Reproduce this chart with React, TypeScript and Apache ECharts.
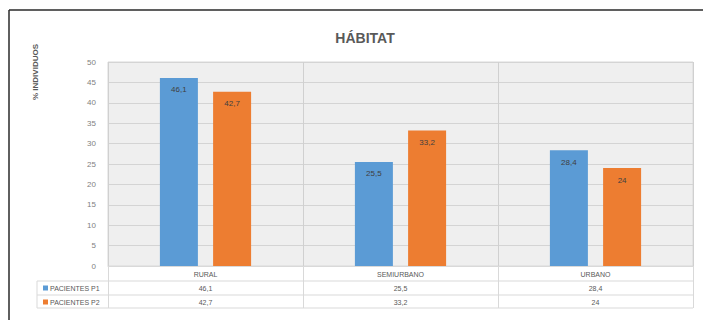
import React, { useEffect, useRef } from "react";
import * as echarts from "echarts";

const categories = ["RURAL", "SEMIURBANO", "URBANO"];
const seriesNames = ["PACIENTES P1", "PACIENTES P2"];
const p1Values = [46.1, 25.5, 28.4];
const p2Values = [42.7, 33.2, 24];
const yTicks = { min: 0, max: 50, interval: 5 };

const fmt = (v: number) => String(v).replace(".", ",");

export default function App() {
  const ref = useRef<HTMLDivElement>(null);
  useEffect(() => {
    if (!ref.current) return;
    const chart = echarts.init(ref.current, null, { renderer: "svg" });
    const tableLine = { stroke: "#d9d9d9", lineWidth: 1 };
    chart.setOption({
      animation: false,
      backgroundColor: "#ffffff",
      textStyle: { fontFamily: "Liberation Sans, Arial, sans-serif" },
      title: {
        text: "HÁBITAT",
        left: 360,
        top: 26,
        textAlign: "center",
        textStyle: { fontSize: 14, fontWeight: "bold", color: "#595959" },
      },
      grid: {
        left: 108,
        right: 10,
        top: 62,
        bottom: 54,
        show: true,
        backgroundColor: "#efefef",
        borderColor: "#d9d9d9",
        borderWidth: 1,
      },
      legend: {
        orient: "vertical",
        left: 38,
        top: 279,
        itemWidth: 5,
        itemHeight: 5,
        itemGap: 6,
        icon: "rect",
        data: seriesNames,
        textStyle: { fontSize: 7, color: "#595959", lineHeight: 8, padding: [0, 0, 0, -3] },
      },
      xAxis: {
        type: "category",
        data: categories,
        axisLine: { show: true, lineStyle: { color: "#d9d9d9" } },
        axisTick: { show: true, length: 42, lineStyle: { color: "#d9d9d9" } },
        splitLine: { show: true, lineStyle: { color: "#d0d0d0" } },
        axisLabel: {
          margin: 1,
          interval: 0,
          formatter: (v: string, i: number) =>
            `{c|${v}}\n{v|${fmt(p1Values[i])}}\n{v|${fmt(p2Values[i])}}`,
          rich: {
            c: { fontSize: 7, color: "#595959", lineHeight: 14 },
            v: { fontSize: 7, color: "#595959", lineHeight: 14 },
          },
        },
      },
      yAxis: {
        type: "value",
        min: yTicks.min,
        max: yTicks.max,
        interval: yTicks.interval,
        axisLine: { show: false },
        axisTick: { show: false },
        splitLine: { lineStyle: { color: "#d4d4d4" } },
        axisLabel: { fontSize: 8, color: "#7f7f7f", margin: 12 },
      },
      series: [
        {
          name: seriesNames[0],
          type: "bar",
          data: p1Values,
          barWidth: 38,
          barGap: "40%",
          itemStyle: { color: "#5b9bd5" },
          label: {
            show: true,
            position: "insideTop",
            distance: 8,
            fontSize: 8,
            color: "#404040",
            formatter: (p: any) => fmt(p.value),
          },
        },
        {
          name: seriesNames[1],
          type: "bar",
          data: p2Values,
          barWidth: 38,
          barGap: "40%",
          itemStyle: { color: "#ed7d31" },
          label: {
            show: true,
            position: "insideTop",
            distance: 8,
            fontSize: 8,
            color: "#404040",
            formatter: (p: any) => fmt(p.value),
          },
        },
      ],
      graphic: [
        { type: "line", shape: { x1: 108, y1: 281, x2: 693, y2: 281 }, style: tableLine },
        { type: "line", shape: { x1: 37, y1: 281, x2: 108, y2: 281 }, style: tableLine },
        { type: "line", shape: { x1: 37, y1: 295, x2: 693, y2: 295 }, style: tableLine },
        { type: "line", shape: { x1: 37, y1: 308, x2: 693, y2: 308 }, style: tableLine },
        { type: "line", shape: { x1: 37, y1: 281, x2: 37, y2: 308 }, style: tableLine },
        {
          type: "text",
          x: 35,
          y: 72,
          rotation: Math.PI / 2,
          style: {
            text: "% INDIVIDUOS",
            fontSize: 8,
            fontWeight: "bold",
            fill: "#595959",
            align: "center",
            verticalAlign: "middle",
            fontFamily: "Liberation Sans, Arial, sans-serif",
          },
        },
        { type: "line", shape: { x1: 9, y1: 10, x2: 703, y2: 10 }, style: { stroke: "#2a2a2a", lineWidth: 1.5 } },
        { type: "line", shape: { x1: 9, y1: 10, x2: 9, y2: 320 }, style: { stroke: "#2a2a2a", lineWidth: 1.5 } },
      ],
    });
    return () => chart.dispose();
  }, []);
  return (
    <div
      ref={ref}
      style={{ position: "absolute", left: 0, top: 0, width: 703, height: 320 }}
    />
  );
}
